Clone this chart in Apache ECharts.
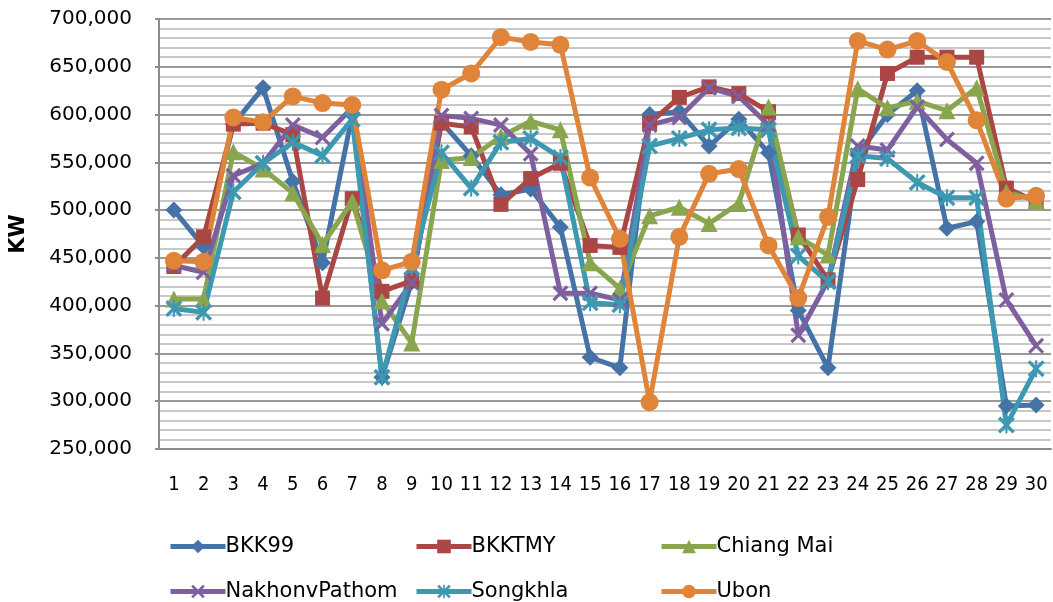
<!DOCTYPE html>
<html>
<head>
<meta charset="utf-8">
<script src="https://cdn.jsdelivr.net/npm/echarts@6/dist/echarts.min.js"></script>
<style>
html,body{margin:0;padding:0;background:#fff;}
#main{width:1053px;height:602px;}
</style>
</head>
<body>
<div id="main"></div>
<script>
var categories = ['1','2','3','4','5','6','7','8','9','10','11','12','13','14','15','16','17','18','19','20','21','22','23','24','25','26','27','28','29','30'];
var bkk99 = [500000,462000,590000,628000,530000,445000,600000,325000,425000,592000,557000,516000,522000,482000,346000,335000,600000,603000,567000,595000,560000,395000,335000,558000,600000,625000,481000,488000,295000,296000];
var bkktmy = [441000,472000,590000,591000,579000,408000,512000,415000,426000,591000,587000,506000,533000,549000,463000,461000,591000,618000,629000,622000,603000,474000,427000,532000,643000,660000,660000,660000,523000,509000];
var chiangMai = [407000,407000,561000,543000,518000,464000,509000,405000,361000,552000,555000,577000,593000,584000,445000,418000,494000,503000,486000,507000,608000,472000,453000,627000,607000,614000,604000,628000,519000,510000];
var nakhonvPathom = [442000,435000,536000,549000,589000,576000,607000,381000,424000,599000,596000,589000,559000,413000,413000,406000,589000,597000,628000,619000,589000,369000,426000,567000,563000,608000,574000,549000,406000,358000];
var songkhla = [397000,393000,519000,549000,571000,557000,595000,325000,440000,560000,523000,571000,575000,555000,403000,401000,567000,575000,584000,586000,584000,452000,425000,557000,554000,529000,513000,513000,275000,334000];
var ubon = [447000,446000,597000,592000,619000,612000,610000,437000,446000,626000,643000,681000,676000,673000,534000,470000,299000,472000,538000,543000,463000,408000,493000,677000,668000,677000,655000,594000,512000,515000];
var yTicks = {min:250000, max:700000, interval:50000};
var seriesNames = ['BKK99','BKKTMY','Chiang Mai','NakhonvPathom','Songkhla','Ubon'];

var colors = ['#4572A7','#AA4643','#89A54E','#7E5F9F','#3D98B2','#E0843A'];
var xPath = 'path://M0,1.4L1.4,0L10,8.6L8.6,10Z M8.6,0L10,1.4L1.4,10L0,8.6Z';
var starPath = 'path://M0,1.4L1.4,0L10,8.6L8.6,10Z M8.6,0L10,1.4L1.4,10L0,8.6Z M4.4,0L5.6,0L5.6,10L4.4,10Z';
var symbols = ['diamond','rect','triangle',xPath,starPath,'circle'];
var sizes = [17,15,17,16,17,18];
var datasets = [bkk99,bkktmy,chiangMai,nakhonvPathom,songkhla,ubon];

var series = seriesNames.map(function(n,i){
  return {
    name:n, type:'line', data:datasets[i], symbol:symbols[i], symbolSize:sizes[i],
    showAllSymbol:true,
    lineStyle:{width:5,color:colors[i]},
    itemStyle:{color:colors[i]},
    emphasis:{disabled:true},
    animation:false
  };
});

var legendPos = [[163,531],[409,531],[654,531],[163,576],[409,576],[654,576]];
var legends = seriesNames.map(function(n,i){
  return {
    data:[n], left:legendPos[i][0], top:legendPos[i][1],
    itemWidth:55, itemHeight:17, itemGap:0,
    lineStyle:{width:5},
    textStyle:{fontFamily:'DejaVu Sans',fontSize:21,color:'#000',padding:[0,0,0,-5]},
    selectedMode:false
  };
});

var chart = echarts.init(document.getElementById('main'),null,{renderer:'canvas'});
chart.setOption({
  animation:false,
  color:colors,
  grid:{left:156,right:2,top:19,bottom:153,containLabel:false},
  legend:legends,
  xAxis:{
    type:'category', data:categories, boundaryGap:true,
    axisLine:{show:true,lineStyle:{color:'#8c8c8c',width:2}},
    axisTick:{show:false},
    axisLabel:{fontFamily:"'DejaVu Sans Condensed','DejaVu Sans',sans-serif",fontSize:20,color:'#000',margin:26,interval:0},
    splitLine:{show:false}
  },
  yAxis:{
    type:'value', min:yTicks.min, max:yTicks.max, interval:yTicks.interval,
    name:'KW', nameLocation:'middle', nameRotate:90, nameGap:130,
    nameTextStyle:{fontFamily:'DejaVu Sans',fontWeight:'bold',fontSize:21,color:'#000'},
    axisLine:{show:true,lineStyle:{color:'#8c8c8c',width:2}},
    axisTick:{show:true,length:4,lineStyle:{color:'#8c8c8c',width:2}},
    axisLabel:{fontFamily:'DejaVu Sans',fontSize:20,color:'#000',margin:27,
      formatter:function(v){return v.toLocaleString('en-US');}},
    splitLine:{show:true,lineStyle:{color:'#999999',width:2}},
    minorTick:{show:false,splitNumber:5},
    minorSplitLine:{show:true,lineStyle:{color:'#c8c8c8',width:2}}
  },
  series:series
});
</script>
</body>
</html>
